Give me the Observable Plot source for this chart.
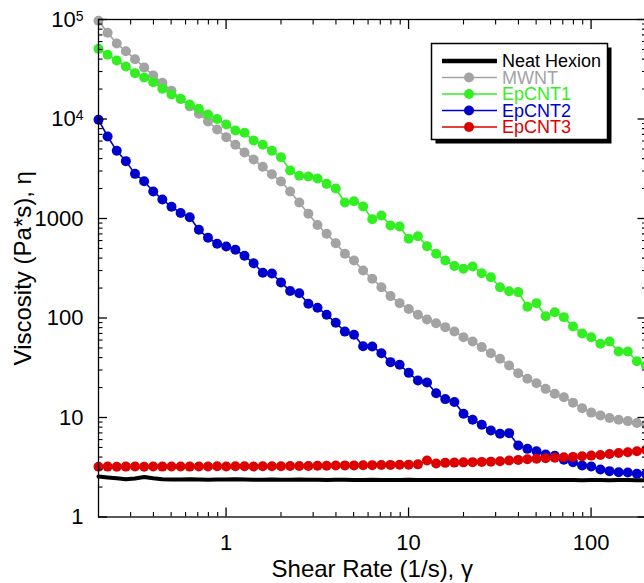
<!DOCTYPE html>
<html>
<head>
<meta charset="utf-8">
<script src="https://cdn.jsdelivr.net/npm/d3@7"></script>
<script src="https://cdn.jsdelivr.net/npm/@observablehq/plot@0.6"></script>
<style>
  html, body { margin: 0; padding: 0; background: #fff; }
  #chart svg { display: block; }
</style>
</head>
<body>
<div id="chart"></div>
<script>
// ---------- data ----------
const shearRate = [
  0.2, 0.2244, 0.2518, 0.2825, 0.317, 0.3557, 0.399, 0.4477, 0.5024, 0.5637,
  0.6325, 0.7096, 0.7962, 0.8934, 1.002, 1.125, 1.262, 1.416, 1.589, 1.783,
  2.0, 2.244, 2.518, 2.825, 3.17, 3.557, 3.99, 4.477, 5.024, 5.637,
  6.325, 7.096, 7.962, 8.934, 10.02, 11.25, 12.62, 14.16, 15.89, 17.83,
  20.0, 22.44, 25.18, 28.25, 31.7, 35.57, 39.9, 44.77, 50.24, 56.37,
  63.25, 70.96, 79.62, 89.34, 100.2, 112.5, 126.2, 141.6, 158.9, 178.3,
  200
];
const neatHexion = [
  2.55, 2.5, 2.45, 2.4, 2.44, 2.52, 2.45, 2.4, 2.38, 2.38,
  2.39, 2.38, 2.37, 2.38, 2.38, 2.39, 2.38, 2.37, 2.37, 2.38,
  2.37, 2.37, 2.38, 2.37, 2.37, 2.36, 2.37, 2.37, 2.36, 2.36,
  2.37, 2.36, 2.36, 2.36, 2.37, 2.36, 2.36, 2.36, 2.35, 2.36,
  2.36, 2.35, 2.35, 2.36, 2.35, 2.35, 2.35, 2.36, 2.35, 2.35,
  2.35, 2.35, 2.35, 2.34, 2.35, 2.35, 2.34, 2.35, 2.35, 2.34,
  2.34
];
const mwnt = [
  97000, 73500, 57400, 48000, 39900, 33000, 27400, 23100, 19200, 15900,
  13400, 11300, 9440, 7850, 6570, 5500, 4610, 3920, 3310, 2780,
  2350, 1870, 1450, 1115, 860, 702, 565, 442, 378, 300,
  248, 204, 166, 141, 123, 108, 96.6, 88.7, 80.9, 73.3,
  64, 58, 51, 44.3, 38.9, 33.3, 27.9, 24.5, 22.1, 19.4,
  17.3, 16, 14.1, 12.4, 11.2, 10.5, 9.9, 9.5, 9.2, 8.8,
  8.5
];
const epcnt1 = [
  50700, 44200, 38700, 33700, 28900, 26100, 23400, 20100, 17600, 16000,
  14000, 12700, 11100, 10000, 8810, 7670, 7270, 6080, 5510, 4800,
  4130, 3040, 2690, 2640, 2520, 2230, 2000, 1450, 1490, 1320,
  985, 1070, 850, 830, 625, 664, 527, 442, 378, 333,
  312, 329, 282, 257, 204, 186, 182, 130, 141, 104,
  114, 102, 82, 70, 64, 55, 58, 46, 46, 36.8,
  33.3
];
const epcnt2 = [
  9820, 6670, 4790, 3770, 2810, 2370, 1870, 1550, 1315, 1135,
  1030, 770, 640, 557, 523, 485, 422, 355, 285, 280,
  228, 187, 177, 139, 127, 108, 89.5, 73, 68, 52,
  51.7, 44.3, 36, 33.9, 28.1, 23.5, 22.5, 17.5, 15.3, 14.3,
  10.9, 9.5, 8.45, 7.4, 6.86, 6.96, 5.23, 4.84, 4.58, 4.25,
  4.12, 3.76, 3.55, 3.29, 3.22, 3.0, 2.89, 2.82, 2.8, 2.72,
  2.7
];
const epcnt3 = [
  3.2, 3.21, 3.2, 3.21, 3.22, 3.2, 3.22, 3.21, 3.22, 3.22,
  3.21, 3.22, 3.22, 3.23, 3.22, 3.23, 3.23, 3.22, 3.23, 3.24,
  3.24, 3.25, 3.26, 3.26, 3.27, 3.28, 3.29, 3.3, 3.3, 3.31,
  3.32, 3.33, 3.34, 3.35, 3.36, 3.38, 3.7, 3.45, 3.5, 3.52,
  3.54, 3.56, 3.58, 3.6, 3.64, 3.7, 3.75, 3.8, 3.85, 3.9,
  3.94, 3.98, 4.02, 4.08, 4.14, 4.2, 4.3, 4.4, 4.48, 4.58,
  4.73
];

const seriesNames  = ["Neat Hexion", "MWNT", "EpCNT1", "EpCNT2", "EpCNT3"];
const seriesColors = ["#000000", "#a3a3a3", "#33ee22", "#0000cc", "#dd0000"];
const seriesValues = [neatHexion, mwnt, epcnt1, epcnt2, epcnt3];
const seriesMarkers = [false, true, true, true, true];

const yMajor = [1, 10, 100, 1000, 1e4, 1e5];
const yMajorLabels = ["1", "10", "100", "1000", "10^4", "10^5"];
const yMinor = [2,3,4,5,6,7,8,9, 20,30,40,50,60,70,80,90, 200,300,400,500,600,700,800,900,
                2000,3000,4000,5000,6000,7000,8000,9000, 20000,30000,40000,50000,60000,70000,80000,90000];
const xMajor = [1, 10, 100];
const xMajorLabels = ["1", "10", "100"];
const xMinor = [0.3,0.4,0.5,0.6,0.7,0.8,0.9, 2,3,4,5,6,7,8,9, 20,30,40,50,60,70,80,90];

const xTitle = "Shear Rate (1/s), γ";
const yTitle = "Viscosity (Pa*s), η";

// ---------- build tables ----------
const rows = [];
seriesValues.forEach((vals, s) => {
  vals.forEach((v, i) => rows.push({x: shearRate[i], y: v, s: seriesNames[s]}));
});

const FONT = "'Liberation Sans', Arial, Helvetica, sans-serif";
const FS = 22;
const TFS = 24;

const lineMarks = [];
seriesNames.forEach((name, s) => {
  const data = rows.filter(d => d.s === name);
  lineMarks.push(Plot.line(data, {
    x: "x", y: "y", stroke: seriesColors[s],
    strokeWidth: seriesMarkers[s] ? 1.6 : 4, curve: "linear"
  }));
  if (seriesMarkers[s]) {
    lineMarks.push(Plot.dot(data, {x: "x", y: "y", fill: seriesColors[s], r: 5, stroke: null}));
  }
});

const yFmt = d => yMajorLabels[yMajor.indexOf(d)];
const xFmt = d => xMajorLabels[xMajor.indexOf(d)];

const plot = Plot.plot({
  width: 644,
  height: 583,
  marginLeft: 98,
  marginRight: -1.5,
  marginTop: 19,
  marginBottom: 66.5,
  style: {fontFamily: FONT, fontSize: FS + "px", color: "#000", background: "#fff", overflow: "hidden"},
  x: {type: "log", domain: [0.2, 200]},
  y: {type: "log", domain: [1, 1e5]},
  marks: [
    ...lineMarks,
    Plot.frame({stroke: "#000", strokeWidth: 1.3}),
    // y axes (left & right), ticks pointing inward
    Plot.axisY(yMajor, {anchor: "left", tickSize: -9, tickPadding: 24, tickFormat: yFmt, fontSize: FS, label: null, strokeWidth: 1.3}),
    Plot.axisY(yMinor, {anchor: "left", tickSize: -4.5, fill: "none", label: null, strokeWidth: 1.1}),
    Plot.axisY(yMajor, {anchor: "right", tickSize: -9, fill: "none", label: null, strokeWidth: 1.3}),
    Plot.axisY(yMinor, {anchor: "right", tickSize: -4.5, fill: "none", label: null, strokeWidth: 1.1}),
    // x axes (bottom & top)
    Plot.axisX(xMajor, {anchor: "bottom", tickSize: -9, tickPadding: 26, tickFormat: xFmt, fontSize: FS, label: null, strokeWidth: 1.3}),
    Plot.axisX(xMinor, {anchor: "bottom", tickSize: -4.5, fill: "none", label: null, strokeWidth: 1.1}),
    Plot.axisX(xMajor, {anchor: "top", tickSize: -9, fill: "none", label: null, strokeWidth: 1.3}),
    Plot.axisX(xMinor, {anchor: "top", tickSize: -4.5, fill: "none", label: null, strokeWidth: 1.1}),
    // titles
    Plot.text([xTitle], {text: d => d, frameAnchor: "bottom", lineAnchor: "middle", textAnchor: "middle", dy: 52, fontSize: TFS}),
    Plot.text([yTitle], {text: d => d, frameAnchor: "left", lineAnchor: "middle", textAnchor: "middle", rotate: -90, dx: -75, fontSize: TFS})
  ]
});

// superscript exponents on the y tick labels
d3.select(plot).selectAll("text").each(function () {
  const t = this.textContent;
  if (t && t.includes("^") && this.children.length === 0) {
    const [base, exp] = t.split("^");
    this.textContent = base;
    d3.select(this).append("tspan").attr("dy", "-0.42em").attr("font-size", "14px").text(exp);
  }
});

// legend
const svg = d3.select(plot);
const lg = svg.append("g").attr("font-family", FONT).attr("font-size", 18).attr("text-anchor", "start");
const bx = 431.5, by = 43.5, bw = 176, bh = 96;
lg.append("rect").attr("x", bx + 4).attr("y", by + 4).attr("width", bw).attr("height", bh).attr("fill", "#000");
lg.append("rect").attr("x", bx).attr("y", by).attr("width", bw).attr("height", bh)
  .attr("fill", "#fff").attr("stroke", "#000").attr("stroke-width", 1.5);
seriesNames.forEach((name, s) => {
  const y = 61 + s * 16.5;
  lg.append("line").attr("x1", 442).attr("x2", 497).attr("y1", y).attr("y2", y)
    .attr("stroke", seriesColors[s]).attr("stroke-width", seriesMarkers[s] ? 1.6 : 4.5);
  if (seriesMarkers[s]) {
    lg.append("circle").attr("cx", 469).attr("cy", y).attr("r", 5).attr("fill", seriesColors[s]);
  }
  lg.append("text").attr("x", 502).attr("y", y).attr("dy", "0.35em").attr("text-anchor", "start")
    .attr("fill", s === 0 ? "#000" : seriesColors[s]).text(name);
});

document.getElementById("chart").appendChild(plot);
</script>
</body>
</html>
